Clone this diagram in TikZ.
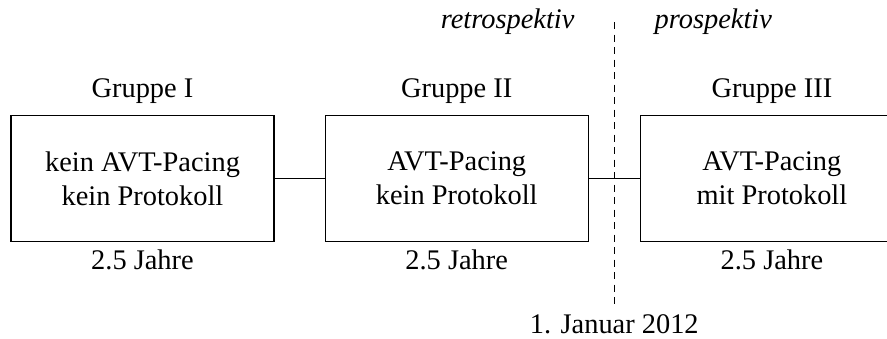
\documentclass[tikz,border=0pt]{standalone}
\usepackage{fontspec}
\setmainfont{Liberation Serif}
\usetikzlibrary{positioning}

\begin{document}
\begin{tikzpicture}[x=0.5pt,y=-0.5pt,font=\fontsize{14.2}{17}\selectfont,block/.style={draw,rectangle,line width=0.6pt,minimum width=131.5pt,minimum height=63pt,align=center,inner sep=0pt},lbl/.style={inner sep=0pt,anchor=base},link/.style={draw,line width=0.6pt},cut/.style={draw,line width=0.6pt,dash pattern=on 3.5pt off 2.75pt}]
  \clip (0,0) rectangle (887,338);

  \node[block] (g1) at (142.5,178.5) {kein AVT-Pacing\\kein Protokoll};
  \node[block,right=25pt of g1] (g2) {AVT-Pacing\\kein Protokoll};
  \node[block,right=25.5pt of g2] (g3) {AVT-Pacing\\mit Protokoll};

  \foreach \n/\t in {1/I,2/II,3/III} {
    \node[lbl] (n\n) at ([yshift=8.6pt]g\n.north) {Gruppe \t};
    \node[lbl] (d\n) at ([yshift=-13.75pt]g\n.south) {2.5 Jahre};
  }

  \draw[link] (g1.east) -- (g2.west);
  \draw[link] (g2.east) -- (g3.west);

  % Stichtag
  \coordinate[right=12.75pt of g2.east] (mid);
  \coordinate (top) at ([yshift=78.25pt]mid);
  \coordinate (bot) at ([yshift=-63.25pt]mid);
  \draw[cut] (top) -- (bot);

  \node[lbl,anchor=base east] (retro) at ([xshift=-19.75pt,yshift=-3pt]top) {\itshape retrospektiv};
  \node[lbl,anchor=base west] (pro) at ([xshift=20pt,yshift=-3pt]top) {\itshape prospektiv};
  \node[lbl] (date) at ([yshift=-14pt]bot) {1. Januar 2012};

\end{tikzpicture}
\end{document}
